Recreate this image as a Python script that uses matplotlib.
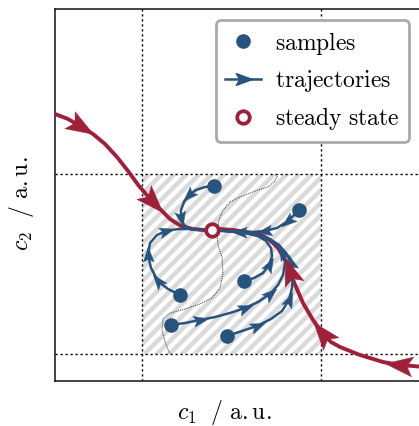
import numpy as np
import matplotlib
matplotlib.use('Agg')
import matplotlib.pyplot as plt
from matplotlib.path import Path
from matplotlib.markers import MarkerStyle
from matplotlib.transforms import Affine2D
from matplotlib.lines import Line2D
from matplotlib.patches import Rectangle

plt.rcParams['mathtext.fontset'] = 'cm'
plt.rcParams['font.family'] = ['DejaVu Serif']

BLUE = '#27537f'
RED = '#a0203a'

# ---------------- data (a.u.) ----------------
x_lim = (0, 370)
y_lim = (0, 372)
grid_x = [87, 266]
grid_y = [27, 207]
region_x = (87, 266)
region_y = (27, 207)

steady_state = (157, 151)

samples_x = [159, 244, 125, 189, 116, 172]
samples_y = [195, 171, 86, 100, 56, 45]

red_left_x = [0, 13, 25, 38, 50, 62, 73, 84, 97, 115, 126, 138, 149, 157]
red_left_y = [267, 262, 255, 247, 237, 224, 210, 195, 180, 162, 155, 152, 151, 151]
red_left_arrows = [2, 8]

red_right_x = [370, 345, 328, 305, 285, 276, 268, 258, 248, 238, 235, 232, 223, 218, 212, 203, 192, 178, 165, 157]
red_right_y = [14, 16, 19, 26, 34, 39, 47, 61, 78, 101, 109, 118, 133, 138, 143, 147, 149, 151, 152, 151]
red_right_arrows = [1, 6, 10]

traj1_x = [159, 150, 141, 134, 129, 126, 126, 129, 135, 145, 157]
traj1_y = [195, 194, 191, 186, 179, 171, 163, 156, 152, 151, 151]
traj1_arrows = [3, 6]

traj2_x = [244, 233, 222, 210, 197, 185, 170, 157]
traj2_y = [171, 160, 153, 150, 149, 149, 150, 151]
traj2_arrows = [1, 3, 5]

traj3_x = [125, 113, 103, 96, 93, 95, 102, 111, 123, 135, 145, 157]
traj3_y = [86, 92, 100, 113, 126, 138, 146, 150, 152, 152, 151, 151]
traj3_arrows = [2, 4, 7]

traj4_x = [189, 199, 208, 214, 217, 216, 211, 203, 192, 180, 167, 157]
traj4_y = [100, 103, 108, 116, 125, 133, 140, 145, 148, 149, 150, 151]
traj4_arrows = [3]

traj5_x = [116, 130, 145, 160, 175, 190, 203, 215, 223, 228, 230, 228, 223, 215, 203, 190, 175, 157]
traj5_y = [56, 58, 61, 64, 68, 73, 79, 87, 96, 106, 118, 128, 135, 141, 145, 148, 150, 151]
traj5_arrows = [2, 5, 7, 11]

traj6_x = [172, 187, 202, 216, 227, 234, 237, 238, 236, 231, 224, 215, 203, 190, 175, 157]
traj6_y = [45, 50, 55, 62, 70, 81, 93, 106, 118, 128, 136, 142, 146, 148, 150, 151]
traj6_arrows = [2, 5, 8]

sep_x = [223, 220, 213, 200, 185, 175, 168, 164, 162, 163, 167, 168, 165, 157, 145, 130, 115, 108, 107, 110, 115]
sep_y = [207, 200, 194, 190, 184, 179, 171, 161, 149, 136, 124, 108, 93, 83, 77, 72, 68, 62, 51, 39, 27]

legend_labels = [r'$\mathrm{samples}$', r'$\mathrm{trajectories}$', r'$\mathrm{steady\ state}$']
xlabel = r'$c_1\ \ /\ \mathrm{a.u.}$'
ylabel = r'$c_2\ \ /\ \mathrm{a.u.}$'

# ---------------- drawing ----------------
ARROW = Path([(1, 0), (-0.8, 0.65), (-0.42, 0), (-0.8, -0.65), (1, 0)],
             [Path.MOVETO, Path.LINETO, Path.LINETO, Path.LINETO, Path.CLOSEPOLY])


def draw_arrows(ax, xs, ys, idxs, color, size, z):
    for i in idxs:
        dx = xs[i + 1] - xs[i - 1]
        dy = ys[i + 1] - ys[i - 1]
        ang = np.degrees(np.arctan2(dy, dx))
        m = MarkerStyle(ARROW, transform=Affine2D().rotate_deg(ang))
        ax.plot([xs[i]], [ys[i]], linestyle='none', marker=m, ms=size,
                color=color, mec=color, mew=0.3, zorder=z)


fig = plt.figure(figsize=(4.19, 4.26), dpi=100)
ax = fig.add_axes([55 / 419, 45 / 426, 370 / 419, 372 / 426])
ax.set_xlim(*x_lim)
ax.set_ylim(*y_lim)
ax.set_xticks([])
ax.set_yticks([])
for s in ax.spines.values():
    s.set_linewidth(1.1)
    s.set_color('#111111')

# hatched region
rect = Rectangle((region_x[0], region_y[0]), region_x[1] - region_x[0],
                 region_y[1] - region_y[0], facecolor='none', edgecolor='none',
                 transform=ax.transData)
ax.add_patch(rect)
for c in np.arange(-300, 300, 12.5):
    ln, = ax.plot([0, 370], [c, c + 370], color='#dadada', lw=3.2,
                  solid_capstyle='butt', zorder=0.5)
    ln.set_clip_path(rect)

for gx in grid_x:
    ax.axvline(gx, color='k', lw=1.0, ls=(0, (1.6, 2.0)), zorder=1)
for gy in grid_y:
    ax.axhline(gy, color='k', lw=1.0, ls=(0, (1.6, 2.0)), zorder=1)

ax.plot(sep_x, sep_y, color='#333333', lw=0.7, ls=(0, (1, 1)), zorder=1.5)

# red manifold
ax.plot(red_left_x, red_left_y, color=RED, lw=2.8, zorder=3, solid_capstyle='butt',
        solid_joinstyle='round')
ax.plot(red_right_x, red_right_y, color=RED, lw=2.8, zorder=3, solid_capstyle='butt',
        solid_joinstyle='round')
draw_arrows(ax, red_left_x, red_left_y, red_left_arrows, RED, 22, 5)
draw_arrows(ax, red_right_x, red_right_y, red_right_arrows, RED, 22, 5)

# blue trajectories
for tx, ty, ta in [(traj1_x, traj1_y, traj1_arrows), (traj2_x, traj2_y, traj2_arrows),
                   (traj3_x, traj3_y, traj3_arrows), (traj4_x, traj4_y, traj4_arrows),
                   (traj5_x, traj5_y, traj5_arrows), (traj6_x, traj6_y, traj6_arrows)]:
    ax.plot(tx, ty, color=BLUE, lw=1.8, zorder=4, solid_joinstyle='round')
    draw_arrows(ax, tx, ty, ta, BLUE, 12, 4.5)

ax.plot(samples_x, samples_y, 'o', color=BLUE, ms=9.5, zorder=6)
ax.plot([steady_state[0]], [steady_state[1]], 'o', ms=9, mfc='white', mec=RED,
        mew=2.7, zorder=7)

handles = [
    Line2D([], [], ls='none', marker='o', ms=9.5, color=BLUE),
    Line2D([], [], color=BLUE, lw=1.8, marker=MarkerStyle(ARROW), ms=13),
    Line2D([], [], ls='none', marker='o', ms=9, mfc='white', mec=RED, mew=2.7),
]
leg = ax.legend(handles, legend_labels, loc='upper left', bbox_to_anchor=(0.435, 0.97),
                borderaxespad=0, fontsize=17, frameon=True, fancybox=True,
                edgecolor='#aaaaaa', framealpha=1, handlelength=1.5,
                handletextpad=0.6, labelspacing=0.48, borderpad=0.4, numpoints=1)
leg.get_frame().set_linewidth(2)
leg.set_zorder(10)

ax.set_xlabel(xlabel, fontsize=17)
ax.xaxis.set_label_coords(0.458, -0.045)
ax.set_ylabel(ylabel, fontsize=17)
ax.yaxis.set_label_coords(-0.05, 0.477)

fig.savefig('out.png', dpi=100)
